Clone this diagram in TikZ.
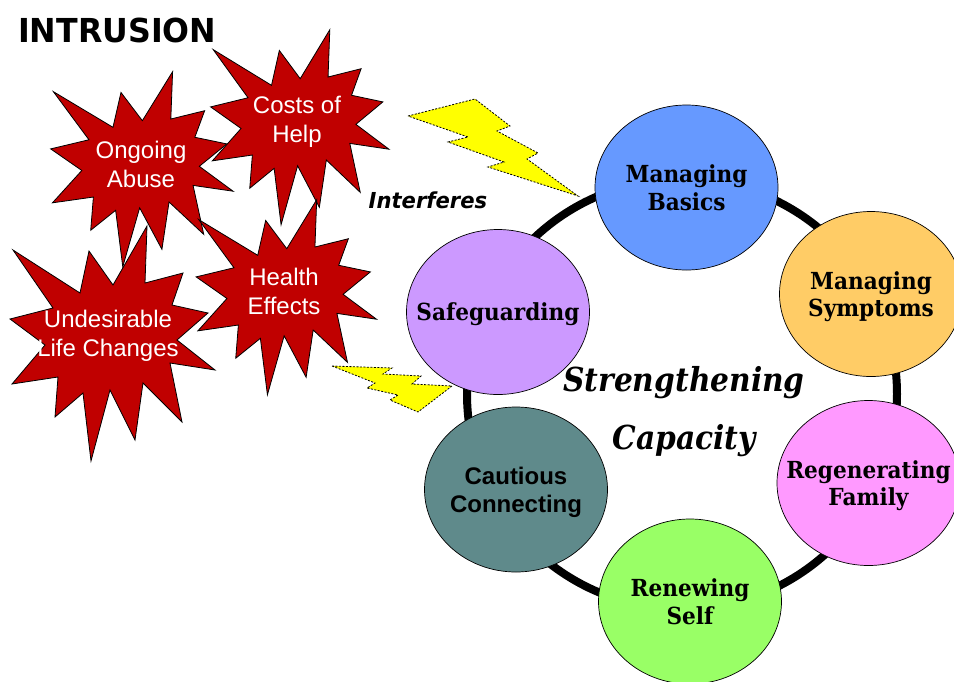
\documentclass[tikz,border=0pt]{standalone}
\usepackage{fontspec}
\setmainfont{Liberation Sans}
\newfontfamily\burstfont{Liberation Sans}
\newfontfamily\circfont[FakeStretch=0.92]{DejaVu Serif}
\newfontfamily\capfont[FakeStretch=0.9]{DejaVu Serif}
\newfontfamily\titlefont[FakeStretch=0.96]{DejaVu Sans}
\usetikzlibrary{shapes.geometric}
\definecolor{burstred}{HTML}{C00000}
\definecolor{boltyellow}{HTML}{FFFF00}
\definecolor{cblue}{HTML}{6699FF}
\definecolor{corange}{HTML}{FFCC66}
\definecolor{cpink}{HTML}{FF99FF}
\definecolor{cgreen}{HTML}{99FF66}
\definecolor{cteal}{HTML}{5F8A8B}
\definecolor{cpurple}{HTML}{CC99FF}
\begin{document}
\begin{tikzpicture}[x=1pt,y=-1pt,
  burst/.style={fill=burstred,draw=black,line width=0.8pt,line join=miter,miter limit=20},
  bursttext/.style={text=white,font=\burstfont\fontsize{24}{29}\selectfont,align=center,inner sep=0pt},
  bolt/.style={fill=boltyellow,draw=black,line width=0.8pt,dash pattern=on 2pt off 1.5pt,line join=miter,miter limit=20},
  stage/.style={ellipse,draw=black,line width=0.7pt,minimum width=183pt,minimum height=165pt,inner sep=-40pt,align=center,text depth=0pt,font=\circfont\bfseries\fontsize{23.5}{27.5}\selectfont},
  sansstage/.style={stage,font=\burstfont\bfseries\fontsize{24}{28}\selectfont},
  ringline/.style={line width=8pt},
  burstshape/.pic={
    \draw[burst] (-94,-86) -- (-27,-43) -- (-18,-85) -- (6,-51) -- (40,-110) -- (38,-53)
      -- (76,-63) -- (65,-31) -- (101,-23) -- (70,4) -- (108,34) -- (63,27) -- (75,86)
      -- (36,47) -- (28,104) -- (3,54) -- (-16,125) -- (-24,57) -- (-52,81) -- (-49,41)
      -- (-95,48) -- (-62,9) -- (-97,-17) -- (-54,-28) -- cycle;
  }
]
\useasboundingbox (0,0) rectangle (954,681);
\fill[white] (0,0) rectangle (954,681);

% ring
\coordinate (ringc) at (682,394);
\draw[ringline] (ringc) circle[radius=215];

% stages
\node[stage,fill=cblue]   (basics)   at (686.5,187.5) {Managing\\Basics};
\node[stage,fill=corange] (symptoms) at (871,294)   {Managing\\Symptoms};
\node[stage,fill=cpink]   (family)   at (868.5,483) {Regenerating\\Family};
\node[stage,fill=cgreen]  (self)     at (690,601.5) {Renewing\\Self};
\node[sansstage,fill=cteal] (cautious) at (516,489.5) {Cautious\\Connecting};
\node[stage,fill=cpurple] (safe)     at (498,312)   {Safeguarding};

% centre text
\node[font=\capfont\bfseries\itshape\fontsize{33}{40}\selectfont,anchor=base,inner sep=0pt] (strength) at (684,391) {Strengthening};
\node[font=\capfont\bfseries\itshape\fontsize{33}{40}\selectfont,anchor=base,inner sep=0pt] (capacity) at (684,449) {Capacity};

% bursts
\path (137,163) pic[xscale=0.89,yscale=0.83] {burstshape};
\path (295,121) pic[xscale=0.87,yscale=0.83] {burstshape};
\path (281.5,291) pic[xscale=0.88,yscale=0.83] {burstshape};
\path (107,336) pic {burstshape};

\node[bursttext] (abuse)  at (141,164) {Ongoing\\Abuse};
\node[bursttext] (costs)  at (297,122) {Costs of\\Help};
\node[bursttext] (health) at (284,291) {Health\\Effects};
\node[bursttext] (undes)  at (108,336) {Undesirable\\Life Changes};

% bolts
\draw[bolt] (408,116) -- (475,99) -- (510,126) -- (497,131) -- (538,153) -- (527,159)
  -- (578,196) -- (488,167) -- (504,162) -- (448,142) -- (468,137) -- cycle;
\draw[bolt] (332,366) -- (392,368) -- (383,374) -- (421,376) -- (412,384) -- (452,386)
  -- (418,412) -- (390,400) -- (398,395) -- (367,388) -- (375,383) -- cycle;

% labels
\node[font=\titlefont\bfseries\fontsize{33}{38}\selectfont,inner sep=0pt,anchor=base west] (title) at (18,42) {INTRUSION};
\node[font=\titlefont\bfseries\itshape\fontsize{22}{26}\selectfont,inner sep=0pt,anchor=base] (interferes) at (428,208) {Interferes};
\end{tikzpicture}
\end{document}
